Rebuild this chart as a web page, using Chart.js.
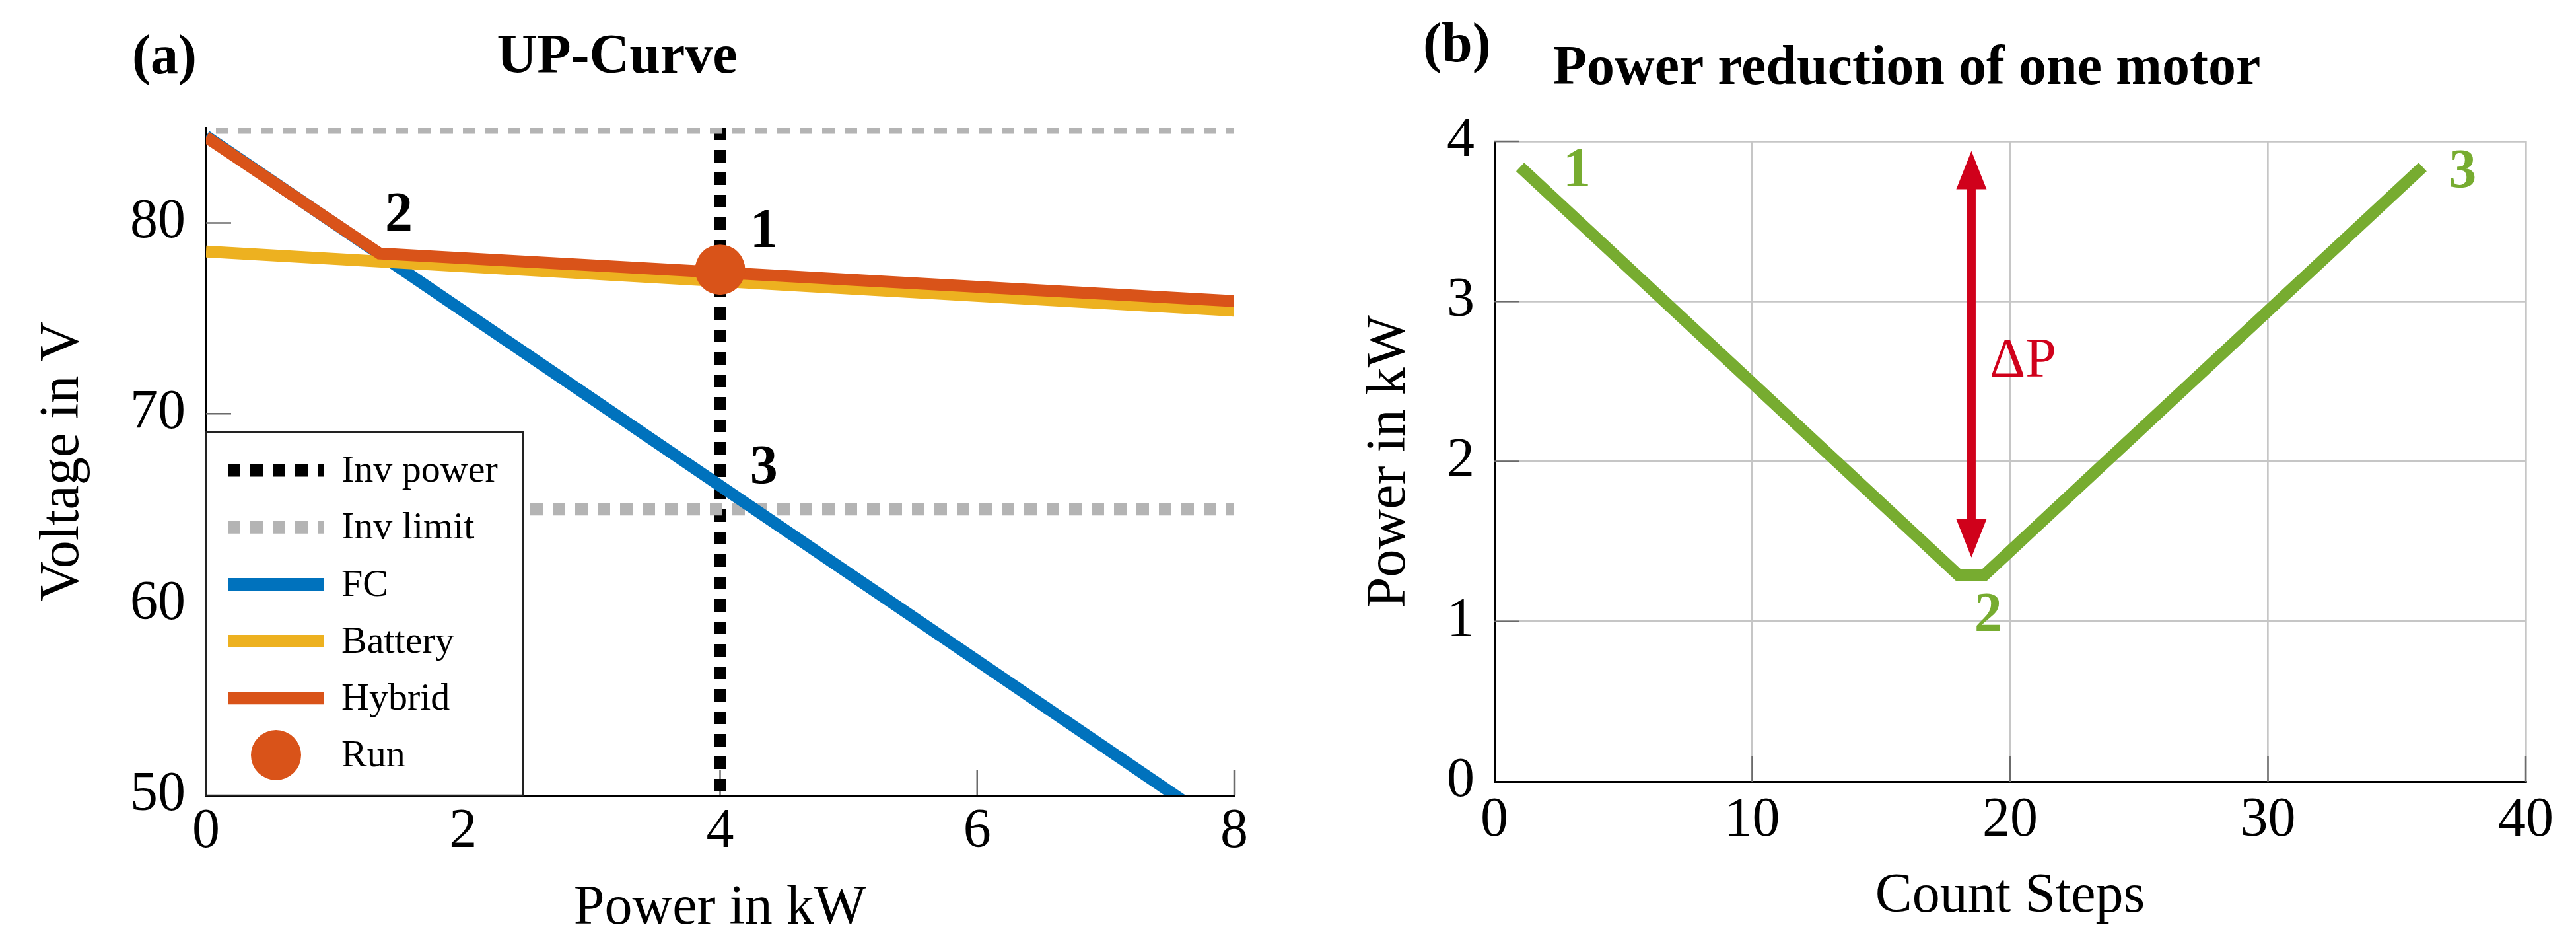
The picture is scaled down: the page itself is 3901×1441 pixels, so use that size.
<!DOCTYPE html>
<html>
<head>
<meta charset="utf-8">
<title>UP-Curve / Power reduction of one motor</title>
<script src="https://cdn.jsdelivr.net/npm/chart.js@4.4.1/dist/chart.umd.min.js"></script>
<style>
  html, body { margin: 0; padding: 0; background: #fff; }
  #page { position: relative; width: 3901px; height: 1441px; }
  .panel { position: absolute; top: 0; height: 1441px; }
  #panelA { left: 0; width: 1950px; }
  #panelB { left: 1950px; width: 1951px; }
</style>
</head>
<body>
<div id="page">
  <div class="panel" id="panelA"><canvas id="upCurve"></canvas></div>
  <div class="panel" id="panelB"><canvas id="powerReduction"></canvas></div>
</div>
<script>
// (a) UP-Curve: power in kW, voltage in V
const fcPower = [0, 8];
const fcVoltage = [84.55, 47.9];
const batteryPower = [0, 8];
const batteryVoltage = [78.5, 75.4];
const hybridPower = [0, 1.35, 8];
const hybridVoltage = [84.5, 78.4, 75.9];
const invPowerX = [4, 4];
const invPowerY = [85, 50];
const invLimitX = [0, 8];
const invLimitHigh = [85, 85];
const invLimitLow = [65, 65];
const runPower = [4];
const runVoltage = [77.55];
const upPowerTicks = [0, 2, 4, 6, 8];
const upVoltageTicks = [50, 60, 70, 80];

// (b) Power reduction of one motor
const countSteps = [1, 18, 19, 36];
const motorPower = [3.84, 1.29, 1.29, 3.84];
const stepTicks = [0, 10, 20, 30, 40];
const motorPowerTicks = [0, 1, 2, 3, 4];
const deltaStep = 18.5;
const deltaRange = [1.4, 3.94];

// Colors
const FC_BLUE = '#0072BD';
const BAT_YELLOW = '#EDB120';
const HYB_ORANGE = '#D95319';
const LIMIT_GREY = '#B4B4B4';
const GREEN = '#77AC30';
const RED = '#D0011B';
const TICK_GREY = '#6b6b6b';
const GRID = '#C6C6C6';
const SERIF = '"Liberation Serif", "Times New Roman", serif';

Chart.defaults.font.family = SERIF;
Chart.defaults.color = '#000';

const pts = (xs, ys) => xs.map((x, i) => ({ x: x, y: ys[i] }));
const fixTicks = list => scale => { scale.ticks = list.map(v => ({ value: v })); };

// annotation texts (data units)
const upLabels = [
  { text: '2', x: 1.5, y: 80.35 },
  { text: '1', x: 4.34, y: 79.5 },
  { text: '3', x: 4.34, y: 67.1 }
];
const reductionLabels = [
  { text: '1', x: 3.2, y: 3.81, color: GREEN, bold: true },
  { text: '2', x: 19.15, y: 1.03, color: GREEN, bold: true },
  { text: '3', x: 37.55, y: 3.8, color: GREEN, bold: true },
  { text: '\u0394P', x: 20.5, y: 2.62, color: RED, bold: false }
];

function innerTicks(len) {
    return {
        id: 'innerTicks',
        beforeDatasetsDraw(chart) {
            const { ctx, chartArea, scales } = chart;
            ctx.save();
            ctx.strokeStyle = TICK_GREY;
            ctx.lineWidth = 2.5;
            ctx.beginPath();
            scales.x.ticks.forEach(t => {
                const px = scales.x.getPixelForValue(t.value);
                if (Math.abs(px - chartArea.left) < 1) return;
                ctx.moveTo(px, chartArea.bottom);
                ctx.lineTo(px, chartArea.bottom - len);
            });
            scales.y.ticks.forEach(t => {
                const py = scales.y.getPixelForValue(t.value);
                if (Math.abs(py - chartArea.bottom) < 1) return;
                ctx.moveTo(chartArea.left, py);
                ctx.lineTo(chartArea.left + len, py);
            });
            ctx.stroke();
            ctx.restore();
        }
    };
}

function textMarks(items, tag) {
    return {
        id: 'textMarks',
        afterDatasetsDraw(chart) {
            const { ctx, scales } = chart;
            ctx.save();
            ctx.textAlign = 'center';
            ctx.textBaseline = 'middle';
            items.forEach(it => {
                ctx.font = (it.bold === false ? '' : 'bold ') + '84px ' + SERIF;
                ctx.fillStyle = it.color || '#000';
                ctx.fillText(it.text, scales.x.getPixelForValue(it.x), scales.y.getPixelForValue(it.y));
            });
            ctx.textAlign = 'left';
            ctx.fillStyle = '#000';
            ctx.font = 'bold 84px ' + SERIF;
            ctx.fillText(tag.text, tag.left, tag.middle);
            ctx.restore();
        }
    };
}

// boxed legend in the lower left corner of panel (a)
const upLegend = {
    id: 'upLegend',
    afterDatasetsDraw(chart) {
        const { ctx, chartArea } = chart;
        const w = 480, h = 550;
        const left = chartArea.left, top = chartArea.bottom - h;
        ctx.save();
        ctx.fillStyle = '#fff';
        ctx.fillRect(left, top, w, h);
        ctx.strokeStyle = '#222';
        ctx.lineWidth = 2.5;
        ctx.strokeRect(left, top, w, h);
        const entries = chart.data.datasets.filter(ds => !ds.hideInLegend);
        entries.sort((a, b) => a.legendIndex - b.legendIndex);
        ctx.font = '58px ' + SERIF;
        ctx.textBaseline = 'middle';
        ctx.textAlign = 'left';
        entries.forEach((ds, i) => {
            const y = top + 58 + i * 86.2;
            if (ds.showLine === false) {
                ctx.fillStyle = ds.backgroundColor;
                ctx.beginPath();
                ctx.arc(left + 106, y, 38, 0, Math.PI * 2);
                ctx.fill();
            } else {
                ctx.strokeStyle = ds.borderColor;
                ctx.lineWidth = 19;
                ctx.setLineDash(ds.borderDash || []);
                ctx.beginPath();
                ctx.moveTo(left + 33, y);
                ctx.lineTo(left + 179, y);
                ctx.stroke();
                ctx.setLineDash([]);
            }
            ctx.fillStyle = '#000';
            ctx.fillText(ds.label, left + 205, y + 2);
        });
        ctx.restore();
    }
};

function lineSet(label, data, color, extra) {
    return Object.assign({
        label: label,
        data: data,
        showLine: true,
        borderColor: color,
        backgroundColor: color,
        borderWidth: 18,
        pointRadius: 0,
        pointHoverRadius: 0,
        clip: 0
    }, extra || {});
}

function scaleBase(ticks, tickPad, titleText, titlePad) {
    return {
        type: 'linear',
        min: ticks[0],
        afterBuildTicks: fixTicks(ticks),
        grid: { display: false, drawTicks: false },
        border: { display: true, color: '#000', width: 3 },
        ticks: { color: '#000', font: { size: 84 }, padding: tickPad, maxRotation: 0, autoSkip: false },
        title: { display: true, text: titleText, color: '#000', font: { size: 84 }, padding: titlePad }
    };
}

// ---- (a) UP-Curve
const xA = scaleBase(upPowerTicks, 6, 'Power in kW', { top: 0, bottom: 14.6 });
xA.max = 8;
xA.afterFit = s => { s.height = 237; };
const yA = scaleBase(upVoltageTicks, 31, 'Voltage in V', { top: 45.6, bottom: 0 });
yA.max = 85;
yA.afterFit = s => { s.width = 312; };

const limitStyle = { borderDash: [19, 15], borderDashOffset: 19, borderWidth: 19 };

new Chart(document.getElementById('upCurve'), {
    type: 'scatter',
    data: {
        datasets: [
            lineSet('Inv power', pts(invPowerX, invPowerY), '#000', { borderDash: [19, 15], borderWidth: 17, order: 7, legendIndex: 0 }),
            lineSet('Inv limit', pts(invLimitX, invLimitHigh), LIMIT_GREY, Object.assign({ order: 6, legendIndex: 1 }, limitStyle)),
            lineSet('Inv limit', pts(invLimitX, invLimitLow), LIMIT_GREY, Object.assign({ order: 5, hideInLegend: true }, limitStyle)),
            lineSet('FC', pts(fcPower, fcVoltage), FC_BLUE, { order: 4, legendIndex: 2 }),
            lineSet('Battery', pts(batteryPower, batteryVoltage), BAT_YELLOW, { order: 3, legendIndex: 3 }),
            lineSet('Hybrid', pts(hybridPower, hybridVoltage), HYB_ORANGE, { order: 2, legendIndex: 4 }),
            {
                label: 'Run',
                data: pts(runPower, runVoltage),
                showLine: false,
                pointRadius: 38,
                pointHoverRadius: 38,
                backgroundColor: HYB_ORANGE,
                borderWidth: 0,
                order: 1,
                legendIndex: 5
            }
        ]
    },
    options: {
        responsive: true,
        maintainAspectRatio: false,
        animation: false,
        events: [],
        layout: { padding: { left: 0, right: 81, top: 0, bottom: 0 } },
        plugins: {
            legend: { display: false },
            tooltip: { enabled: false },
            title: {
                display: true,
                text: 'UP-Curve',
                color: '#000',
                font: { size: 84, weight: 'bold' },
                padding: { top: 37.6, bottom: 54.6 }
            }
        },
        scales: { x: xA, y: yA }
    },
    plugins: [innerTicks(38), upLegend, textMarks(upLabels, { text: '(a)', left: 200, middle: 89 })]
});

// ---- (b) Power reduction of one motor
const xB = scaleBase(stepTicks, 10, 'Count Steps', { top: 0, bottom: 32.6 });
xB.max = 40;
xB.grid = { display: true, color: GRID, lineWidth: 2.7, drawTicks: false };
xB.afterFit = s => { s.height = 258; };
const yB = scaleBase(motorPowerTicks, 30, 'Power in kW', { top: 104.6, bottom: 0 });
yB.max = 4;
yB.grid = { display: true, color: GRID, lineWidth: 2.7, drawTicks: false };
yB.afterFit = s => { s.width = 313; };

const deltaArrow = {
    id: 'deltaArrow',
    afterDatasetsDraw(chart) {
        const { ctx, scales } = chart;
        const x = scales.x.getPixelForValue(deltaStep);
        const yBot = scales.y.getPixelForValue(deltaRange[0]);
        const yTop = scales.y.getPixelForValue(deltaRange[1]);
        const head = 58, half = 23;
        ctx.save();
        ctx.strokeStyle = RED;
        ctx.fillStyle = RED;
        ctx.lineWidth = 13;
        ctx.beginPath();
        ctx.moveTo(x, yTop + head - 4);
        ctx.lineTo(x, yBot - head + 4);
        ctx.stroke();
        ctx.beginPath();
        ctx.moveTo(x, yTop);
        ctx.lineTo(x + half, yTop + head);
        ctx.lineTo(x - half, yTop + head);
        ctx.closePath();
        ctx.fill();
        ctx.beginPath();
        ctx.moveTo(x, yBot);
        ctx.lineTo(x + half, yBot - head);
        ctx.lineTo(x - half, yBot - head);
        ctx.closePath();
        ctx.fill();
        ctx.restore();
    }
};

new Chart(document.getElementById('powerReduction'), {
    type: 'scatter',
    data: {
        datasets: [
            lineSet('Power', pts(countSteps, motorPower), GREEN, { clip: undefined })
        ]
    },
    options: {
        responsive: true,
        maintainAspectRatio: false,
        animation: false,
        events: [],
        layout: { padding: { left: 0, right: 76, top: 0, bottom: 0 } },
        plugins: {
            legend: { display: false },
            tooltip: { enabled: false },
            title: {
                display: true,
                text: 'Power reduction of one motor',
                color: '#000',
                font: { size: 84, weight: 'bold' },
                padding: { top: 54.6, bottom: 58.6 }
            }
        },
        scales: { x: xB, y: yB }
    },
    plugins: [innerTicks(38), deltaArrow, textMarks(reductionLabels, { text: '(b)', left: 205, middle: 71 })]
});
</script>
</body>
</html>
